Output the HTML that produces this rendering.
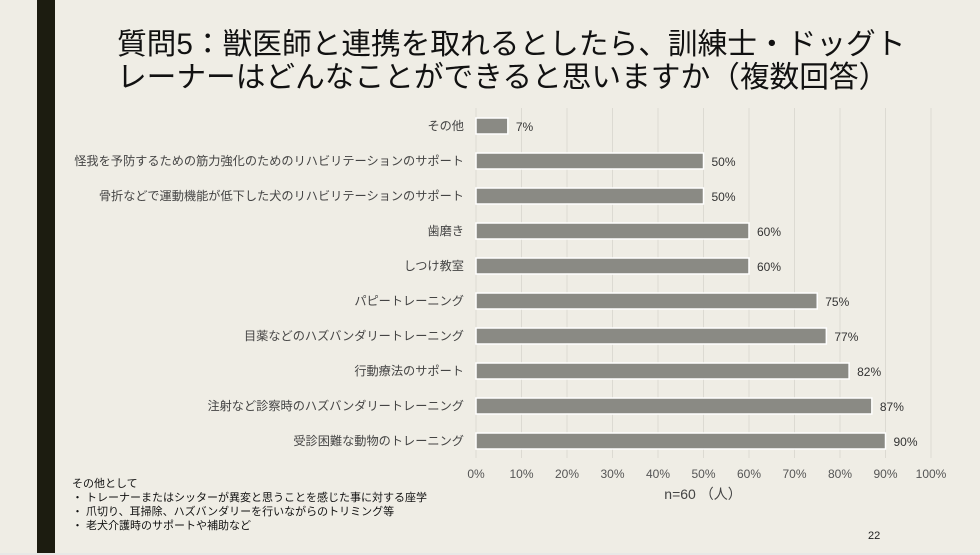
<!DOCTYPE html>
<html><head><meta charset="utf-8"><style>
body{margin:0;width:980px;height:555px;overflow:hidden;background:#e8e8e6;font-family:"Liberation Sans","Noto Sans CJK JP",sans-serif;}
#slide{position:absolute;left:0;top:0;width:980px;height:553px;background:#efede5;}
#bar{position:absolute;left:37px;top:0;width:18px;height:553px;background:#1c1c10;}
.t{position:absolute;color:#111;font-size:29.7px;white-space:nowrap;}
.note{position:absolute;left:72px;font-size:11px;color:#111;white-space:nowrap;}
</style></head><body>
<div id="slide">
<div id="bar"></div>
<div class="t" style="left:117px;top:20px;">質問5：獣医師と連携を取れるとしたら、訓練士・ドッグト</div>
<div class="t" style="left:117px;top:53px;">レーナーはどんなことができると思いますか（複数回答）</div>
<svg id="chart" width="980" height="553" style="position:absolute;left:0;top:0"></svg>
<div class="note" style="top:475px">その他として</div>
<div class="note" style="top:489px">・ トレーナーまたはシッターが異変と思うことを感じた事に対する座学</div>
<div class="note" style="top:503px">・ 爪切り、耳掃除、ハズバンダリーを行いながらのトリミング等</div>
<div class="note" style="top:517px">・ 老犬介護時のサポートや補助など</div>
<div style="position:absolute;left:868px;top:530px;font-size:11px;color:#222">22</div>
</div>
<script>
const categories=["その他","怪我を予防するための筋力強化のためのリハビリテーションのサポート","骨折などで運動機能が低下した犬のリハビリテーションのサポート","歯磨き","しつけ教室","パピートレーニング","目薬などのハズバンダリートレーニング","行動療法のサポート","注射など診察時のハズバンダリートレーニング","受診困難な動物のトレーニング"];
const values=[7,50,50,60,60,75,77,82,87,90];
const ticks=[0,10,20,30,40,50,60,70,80,90,100];
const svg=document.getElementById('chart');const NS='http://www.w3.org/2000/svg';
const x0=476,x1=931,yTop=108,step=35;
const xs=v=>x0+(x1-x0)*v/100;const yc=i=>yTop+18+i*step;
function el(t,a,txt){const e=document.createElementNS(NS,t);for(const k in a)e.setAttribute(k,a[k]);if(txt!==undefined)e.textContent=txt;svg.appendChild(e);return e;}
ticks.forEach(t=>{const g=el('line',{x1:xs(t),x2:xs(t),y1:yTop,y2:yTop+categories.length*step,stroke:'#dcdad2','stroke-width':1});

const l=el('text',{x:xs(t),y:478,'text-anchor':'middle','font-size':12,fill:'#555'},t+'%');
});
categories.forEach((c,i)=>{const y=yc(i);
const r=el('rect',{x:x0,y:y-8,width:xs(values[i])-x0,height:16,fill:'#8a8a84',stroke:'#fff','stroke-width':1.5});

const l=el('text',{x:464,y:y+4,'text-anchor':'end','font-size':12.2,fill:'#444'},c);

const v=el('text',{x:xs(values[i])+8,y:y+5,'font-size':12,fill:'#333'},values[i]+'%');
});
const n=el('text',{x:703,y:499,'text-anchor':'middle','font-size':14,fill:'#444'},'n=60 （人）');

</script>
</body></html>
